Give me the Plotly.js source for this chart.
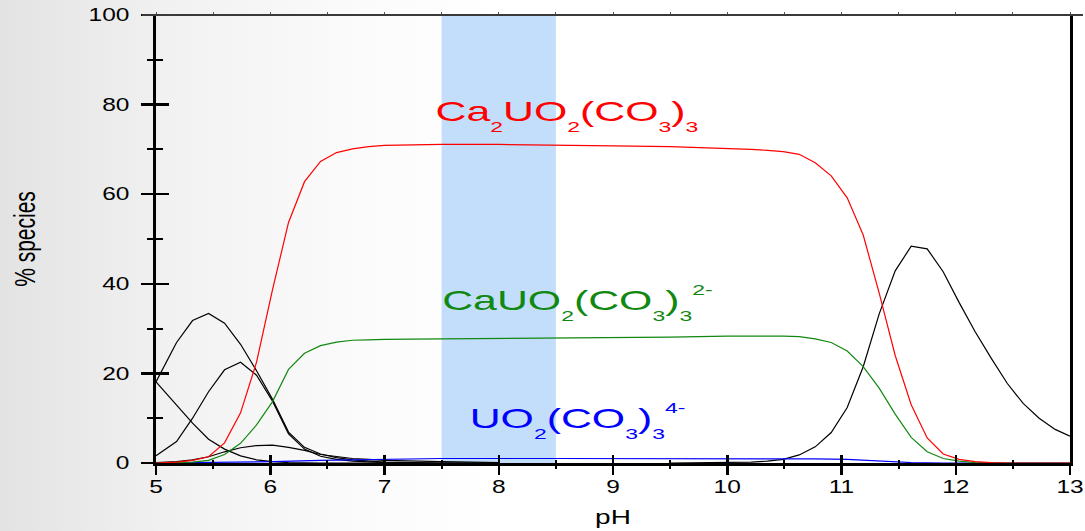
<!DOCTYPE html>
<html>
<head>
<meta charset="utf-8">
<script src="https://cdn.plot.ly/plotly-3.0.1.min.js"></script>
<style>
  html, body { margin:0; padding:0; }
  body { width:1085px; height:531px; overflow:hidden;
         background: linear-gradient(to right, #e3e3e3 0px, #f2f2f2 180px, #fbfbfb 360px, #ffffff 500px, #ffffff 1085px); }
  #chart { width:1085px; height:531px; }
</style>
</head>
<body>
<div id="chart"></div>
<script>
// ---------------- data ----------------
const bandRange = [7.5, 8.5];

const caCa2X = [5.00,5.18,5.32,5.46,5.60,5.74,5.88,6.02,6.16,6.30,6.44,6.58,6.72,6.86,7.00,7.50,8.00,8.50,9.00,9.50,10.07,10.21,10.35,10.49,10.63,10.77,10.91,11.05,11.19,11.33,11.47,11.61,11.75,11.89,12.03,12.17,12.31,12.45,13.00];
const caCa2Y = [0.0,0.2,0.6,1.4,4.5,11.2,22.5,38.7,53.7,62.8,67.3,69.3,70.1,70.6,70.9,71.1,71.1,71.0,70.8,70.6,70.2,70.0,69.8,69.5,68.9,67.0,64.1,59.2,50.9,37.9,24.0,13.0,5.6,2.0,0.8,0.3,0.1,0.0,0.0];

const caCa1X = [5.00,5.18,5.32,5.46,5.60,5.74,5.88,6.02,6.16,6.30,6.44,6.58,6.72,6.86,7.00,7.50,8.00,8.50,9.00,9.50,10.00,10.35,10.49,10.63,10.77,10.91,11.05,11.19,11.33,11.47,11.61,11.75,11.89,12.03,12.17,12.31,12.45,13.00];
const caCa1Y = [0.0,0.1,0.2,0.6,1.9,4.4,8.5,13.7,20.9,24.5,26.2,27.0,27.4,27.5,27.6,27.7,27.8,27.8,28.0,28.1,28.3,28.4,28.3,28.2,27.7,26.9,25.0,21.5,16.7,10.9,5.7,2.5,1.0,0.4,0.1,0.0,0.0,0.0];

const uo2X = [5.00,5.46,6.02,6.44,7.00,7.50,8.50,9.50,10.49,10.77,11.05,11.33,11.61,11.89,13.00];
const uo2Y = [0.0,0.1,0.3,0.6,0.9,1.0,1.0,1.0,1.0,0.9,0.8,0.5,0.1,0.0,0.0];

const blackAX = [5.00,5.18,5.32,5.46,5.60,5.74,5.88,6.02,6.16,6.30,6.44,6.58,6.72,6.86,7.00,7.50,8.00];
const blackAY = [18.1,26.9,31.8,33.4,31.2,26.5,20.6,14.2,6.9,3.5,2.0,1.2,0.7,0.4,0.2,0.0,0.0];

const blackBX = [5.00,5.18,5.32,5.46,5.60,5.74,5.88,6.02,6.16,6.30,6.44,6.58,6.72,6.86,7.00,7.50,8.00];
const blackBY = [1.6,4.8,10.0,15.9,20.8,22.5,19.6,13.8,6.5,3.1,1.5,0.8,0.4,0.2,0.1,0.0,0.0];

const blackCX = [5.00,5.18,5.32,5.46,5.60,5.74,5.88,6.02,6.16,6.44,7.00];
const blackCY = [18.1,12.9,8.9,5.3,3.1,1.6,0.7,0.3,0.1,0.0,0.0];

const blackDX = [5.00,5.18,5.32,5.46,5.60,5.74,5.88,6.02,6.16,6.30,6.44,6.58,6.72,6.86,7.00,7.50,8.00];
const blackDY = [0.1,0.3,0.7,1.4,2.5,3.4,3.9,4.0,3.5,2.8,1.9,1.4,1.0,0.8,0.6,0.3,0.1];

const blackEX = [9.50,10.07,10.21,10.35,10.49,10.63,10.77,10.91,11.05,11.19,11.33,11.47,11.61,11.75,11.89,12.03,12.17,12.31,12.45,12.59,12.73,12.87,13.00];
const blackEY = [0.0,0.1,0.2,0.4,0.8,1.8,3.6,6.8,12.4,21.5,33.3,42.9,48.4,47.8,42.7,35.8,29.3,23.4,17.8,13.3,10.0,7.5,6.0];

// label pieces: [text, kind] ; kind '' normal, 'b' subscript, 'p' superscript
const labelParts = [
  [['Ca',''],['2','b'],['UO',''],['2','b'],['(CO',''],['3','b'],[')',''],['3','b']],
  [['CaUO',''],['2','b'],['(CO',''],['3','b'],[')',''],['3','b'],['2-','p']],
  [['UO',''],['2','b'],['(CO',''],['3','b'],[')',''],['3','b'],['4-','p']]
];
const labelX = [8.60, 8.69, 8.69];
const labelY = [77.6, 35.8, 9.5];
const labelColors = ['#ff0000', '#118811', '#0000ff'];

const xTickVals = [5,6,7,8,9,10,11,12,13];
const yTickVals = [0,20,40,60,80,100];

function buildLabel(parts) {
  return parts.map(function(p){
    if (p[1] === 'b') return '<span style="font-size:15px;baseline-shift:-11px">' + p[0] + '</span>';
    if (p[1] === 'p') return '<span style="font-size:15px;baseline-shift:15px">' + p[0] + '</span>';
    return p[0];
  }).join('');
}

// ---------------- traces ----------------
function line(x, y, color, name) {
  return {x:x, y:y, type:'scatter', mode:'lines', name:name,
          line:{color:color, width:1.2}, hoverinfo:'skip', showlegend:false};
}
const data = [
  line(blackCX, blackCY, '#000000', 'black C'),
  line(blackDX, blackDY, '#000000', 'black D'),
  line(blackBX, blackBY, '#000000', 'black B'),
  line(blackAX, blackAY, '#000000', 'black A'),
  line(blackEX, blackEY, '#000000', 'black E'),
  line(uo2X, uo2Y, '#0000ff', 'UO2(CO3)3 4-'),
  line(caCa1X, caCa1Y, '#118811', 'CaUO2(CO3)3 2-'),
  line(caCa2X, caCa2Y, '#ff0000', 'Ca2UO2(CO3)3'),
  {x:[], y:[], xaxis:'x2', yaxis:'y', type:'scatter', showlegend:false, hoverinfo:'skip'},
  {x:[], y:[], xaxis:'x3', yaxis:'y', type:'scatter', showlegend:false, hoverinfo:'skip'},
  {x:[], y:[], xaxis:'x', yaxis:'y2', type:'scatter', showlegend:false, hoverinfo:'skip'}
];

const tickFont = {family:'"Liberation Sans", Arial, sans-serif', size:17.5, color:'#000'};

const layout = {
  width:1085, height:531,
  margin:{l:156, r:15, t:15, b:68, pad:0},
  paper_bgcolor:'rgba(0,0,0,0)',
  plot_bgcolor:'rgba(0,0,0,0)',
  showlegend:false,
  xaxis:{
    range:[5,13], tickvals:xTickVals, ticktext:xTickVals.map(String),
    ticks:'outside', ticklen:9, tickwidth:2.5, tickcolor:'#000',
    minor:{ticks:'outside', ticklen:3, tickwidth:2, tickcolor:'#000', dtick:0.5, tick0:5, showgrid:false},
    showline:true, linewidth:3, linecolor:'#000', mirror:false,
    showgrid:false, zeroline:false, tickfont:tickFont, ticklabelstandoff:-3,
    title:{text:'pH', font:{family:'"Liberation Sans", Arial, sans-serif', size:20, color:'#000'}, standoff:15},
    automargin:false
  },
  xaxis2:{
    overlaying:'x', anchor:'y', side:'bottom', range:[5,13], dtick:1, tick0:5,
    ticks:'inside', ticklen:8, tickwidth:2.5, tickcolor:'#000',
    minor:{ticks:'inside', ticklen:3, tickwidth:2, tickcolor:'#000', dtick:0.5, tick0:5, showgrid:false},
    showticklabels:false, showline:false, showgrid:false, zeroline:false
  },
  xaxis3:{
    overlaying:'x', anchor:'y', side:'top', range:[5,13], dtick:0.5, tick0:5,
    ticks:'outside', ticklen:2, tickwidth:1, tickcolor:'#555',
    showticklabels:false, showline:false, showgrid:false, zeroline:false
  },
  yaxis:{
    range:[0,100], tickvals:yTickVals, ticktext:yTickVals.map(String),
    ticks:'outside', ticklen:12, tickwidth:2.5, tickcolor:'#000',
    minor:{ticks:'outside', ticklen:6, tickwidth:2, tickcolor:'#000', dtick:10, tick0:0, showgrid:false},
    showline:true, linewidth:3, linecolor:'#000', mirror:true,
    showgrid:false, zeroline:false, tickfont:tickFont, ticklabelstandoff:8,
    title:{text:'% species', font:{family:'"Liberation Sans", Arial, sans-serif', size:21, color:'#000'}, standoff:62},
    automargin:false
  },
  yaxis2:{
    overlaying:'y', anchor:'x', side:'left', range:[0,100], dtick:20, tick0:0,
    ticks:'inside', ticklen:13, tickwidth:2.5, tickcolor:'#000',
    minor:{ticks:'inside', ticklen:7, tickwidth:2, tickcolor:'#000', dtick:10, tick0:0, showgrid:false},
    showticklabels:false, showline:false, showgrid:false, zeroline:false
  },
  shapes:[
    {type:'rect', xref:'x', yref:'paper', x0:bandRange[0], x1:bandRange[1], y0:0, y1:1,
     fillcolor:'#c2defb', line:{width:0}, layer:'below'},
    {type:'line', xref:'paper', yref:'paper', x0:-0.0153, x1:1.0142, y0:1, y1:1,
     line:{color:'#3a3a3a', width:2}, layer:'above'}
  ],
  annotations: labelParts.map((p,i)=>({
    text:buildLabel(p), x:labelX[i], y:labelY[i], xref:'x', yref:'y', showarrow:false,
    xanchor:'center', yanchor:'middle',
    font:{family:'"Liberation Sans", Arial, sans-serif', size:28, color:labelColors[i]}
  }))
};

function stretchText(el, k, mode) {
  let bb;
  try { bb = el.getBBox(); } catch(e) { return; }
  if (!bb || !bb.width) return;
  let lx = mode === 'right' ? bb.x + bb.width : bb.x + bb.width/2;
  let ly = bb.y + bb.height/2;
  let cx = lx;
  const tl = el.transform && el.transform.baseVal;
  if (tl && tl.numberOfItems) {
    const m = tl.consolidate().matrix;
    cx = m.a*lx + m.c*ly + m.e;
  }
  const old = el.getAttribute('transform') || '';
  el.setAttribute('transform', 'translate(' + cx + ',0) scale(' + k + ',1) translate(' + (-cx) + ',0) ' + old);
}

Plotly.newPlot('chart', data, layout, {staticPlot:true, displayModeBar:false}).then(function(gd){
  const K = 1.4;
  gd.querySelectorAll('.xtick text').forEach(el => stretchText(el, K, 'center'));
  gd.querySelectorAll('.ytick text').forEach(el => stretchText(el, K, 'right'));
  gd.querySelectorAll('.g-xtitle text, .g-ytitle text').forEach(el => stretchText(el, K, 'center'));
  gd.querySelectorAll('.annotation-text').forEach(el => stretchText(el, 1.53, 'center'));
});
</script>
</body>
</html>
